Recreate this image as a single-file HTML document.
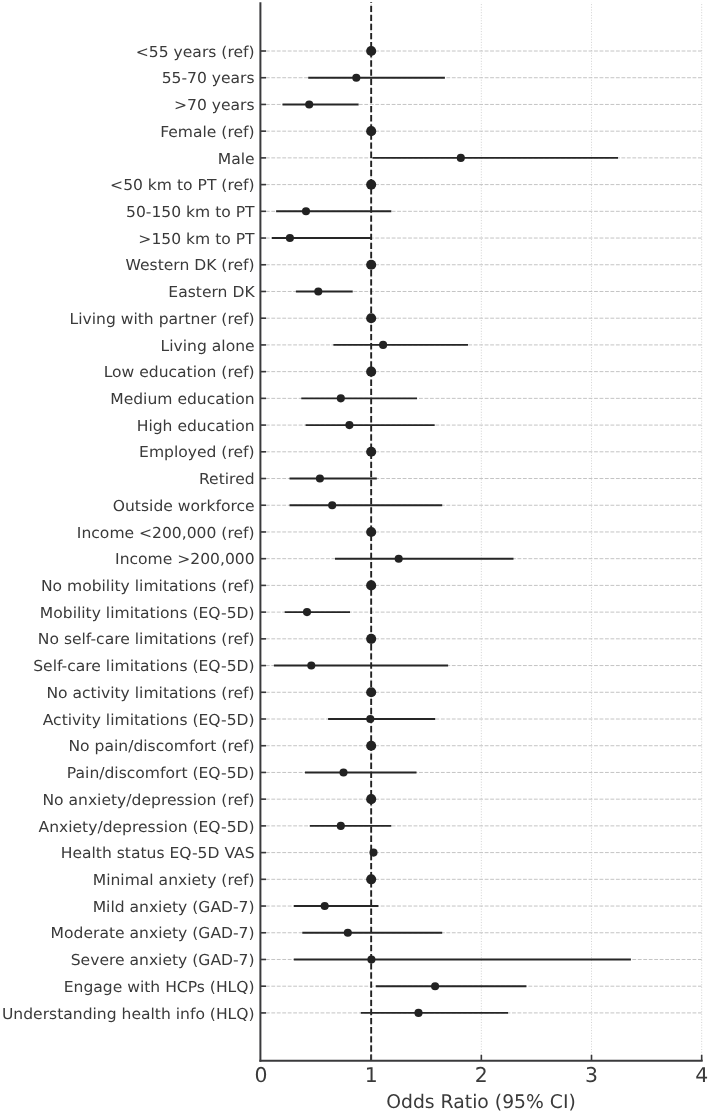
<!DOCTYPE html>
<html><head><meta charset="utf-8"><title>Odds Ratio forest plot</title>
<style>
html,body{margin:0;padding:0;background:#fff;}
body{width:709px;height:1111px;overflow:hidden;}
svg{display:block;will-change:transform;}
text{text-rendering:geometricPrecision;font-family:"DejaVu Sans","Liberation Sans",sans-serif;fill:#3a3a3a;}
</style></head><body>
<svg width="709" height="1111" viewBox="0 0 709 1111">
<rect width="709" height="1111" fill="#fff"/>

<g stroke="#c8c8c8" stroke-width="0.8" stroke-dasharray="1 1.7">
<line x1="371.17" y1="1060.80" x2="371.17" y2="2.30"/>
<line x1="481.34" y1="1060.80" x2="481.34" y2="2.30"/>
<line x1="591.51" y1="1060.80" x2="591.51" y2="2.30"/>
<line x1="701.68" y1="1060.80" x2="701.68" y2="2.30"/>
</g>
<g stroke="#c4c4c4" stroke-width="1.0" stroke-dasharray="3.82 1.65">
<line x1="260.40" y1="51.00" x2="701.68" y2="51.00"/>
<line x1="260.40" y1="77.72" x2="701.68" y2="77.72"/>
<line x1="260.40" y1="104.44" x2="701.68" y2="104.44"/>
<line x1="260.40" y1="131.16" x2="701.68" y2="131.16"/>
<line x1="260.40" y1="157.88" x2="701.68" y2="157.88"/>
<line x1="260.40" y1="184.60" x2="701.68" y2="184.60"/>
<line x1="260.40" y1="211.32" x2="701.68" y2="211.32"/>
<line x1="260.40" y1="238.04" x2="701.68" y2="238.04"/>
<line x1="260.40" y1="264.76" x2="701.68" y2="264.76"/>
<line x1="260.40" y1="291.48" x2="701.68" y2="291.48"/>
<line x1="260.40" y1="318.20" x2="701.68" y2="318.20"/>
<line x1="260.40" y1="344.92" x2="701.68" y2="344.92"/>
<line x1="260.40" y1="371.64" x2="701.68" y2="371.64"/>
<line x1="260.40" y1="398.36" x2="701.68" y2="398.36"/>
<line x1="260.40" y1="425.08" x2="701.68" y2="425.08"/>
<line x1="260.40" y1="451.80" x2="701.68" y2="451.80"/>
<line x1="260.40" y1="478.52" x2="701.68" y2="478.52"/>
<line x1="260.40" y1="505.24" x2="701.68" y2="505.24"/>
<line x1="260.40" y1="531.96" x2="701.68" y2="531.96"/>
<line x1="260.40" y1="558.68" x2="701.68" y2="558.68"/>
<line x1="260.40" y1="585.40" x2="701.68" y2="585.40"/>
<line x1="260.40" y1="612.12" x2="701.68" y2="612.12"/>
<line x1="260.40" y1="638.84" x2="701.68" y2="638.84"/>
<line x1="260.40" y1="665.56" x2="701.68" y2="665.56"/>
<line x1="260.40" y1="692.28" x2="701.68" y2="692.28"/>
<line x1="260.40" y1="719.00" x2="701.68" y2="719.00"/>
<line x1="260.40" y1="745.72" x2="701.68" y2="745.72"/>
<line x1="260.40" y1="772.44" x2="701.68" y2="772.44"/>
<line x1="260.40" y1="799.16" x2="701.68" y2="799.16"/>
<line x1="260.40" y1="825.88" x2="701.68" y2="825.88"/>
<line x1="260.40" y1="852.60" x2="701.68" y2="852.60"/>
<line x1="260.40" y1="879.32" x2="701.68" y2="879.32"/>
<line x1="260.40" y1="906.04" x2="701.68" y2="906.04"/>
<line x1="260.40" y1="932.76" x2="701.68" y2="932.76"/>
<line x1="260.40" y1="959.48" x2="701.68" y2="959.48"/>
<line x1="260.40" y1="986.20" x2="701.68" y2="986.20"/>
<line x1="260.40" y1="1012.92" x2="701.68" y2="1012.92"/>
</g>
<line x1="371.17" y1="1060.80" x2="371.17" y2="2.30" stroke="#222222" stroke-width="1.9" stroke-dasharray="6.37 2.75"/>
<g stroke="#262626" stroke-width="1.9">
<line x1="308.20" y1="77.72" x2="444.90" y2="77.72"/>
<line x1="282.50" y1="104.44" x2="358.60" y2="104.44"/>
<line x1="372.50" y1="157.88" x2="618.00" y2="157.88"/>
<line x1="276.10" y1="211.32" x2="391.30" y2="211.32"/>
<line x1="271.80" y1="238.04" x2="371.00" y2="238.04"/>
<line x1="295.90" y1="291.48" x2="352.70" y2="291.48"/>
<line x1="333.40" y1="344.92" x2="468.00" y2="344.92"/>
<line x1="301.30" y1="398.36" x2="417.00" y2="398.36"/>
<line x1="305.60" y1="425.08" x2="434.70" y2="425.08"/>
<line x1="289.50" y1="478.52" x2="376.80" y2="478.52"/>
<line x1="289.50" y1="505.24" x2="442.20" y2="505.24"/>
<line x1="335.00" y1="558.68" x2="513.50" y2="558.68"/>
<line x1="284.70" y1="612.12" x2="350.00" y2="612.12"/>
<line x1="273.90" y1="665.56" x2="448.10" y2="665.56"/>
<line x1="328.10" y1="719.00" x2="435.20" y2="719.00"/>
<line x1="305.00" y1="772.44" x2="416.50" y2="772.44"/>
<line x1="309.80" y1="825.88" x2="391.30" y2="825.88"/>
<line x1="371.80" y1="852.60" x2="374.40" y2="852.60"/>
<line x1="293.80" y1="906.04" x2="378.40" y2="906.04"/>
<line x1="302.30" y1="932.76" x2="442.20" y2="932.76"/>
<line x1="293.80" y1="959.48" x2="630.90" y2="959.48"/>
<line x1="375.80" y1="986.20" x2="526.40" y2="986.20"/>
<line x1="360.80" y1="1012.92" x2="508.10" y2="1012.92"/>
</g>
<g fill="#222222">
<circle cx="371.17" cy="51.00" r="5.05"/>
<circle cx="356.30" cy="77.72" r="4.05"/>
<circle cx="309.20" cy="104.44" r="4.05"/>
<circle cx="371.17" cy="131.16" r="5.05"/>
<circle cx="460.80" cy="157.88" r="4.05"/>
<circle cx="371.17" cy="184.60" r="5.05"/>
<circle cx="306.00" cy="211.32" r="4.05"/>
<circle cx="289.90" cy="238.04" r="4.05"/>
<circle cx="371.17" cy="264.76" r="5.05"/>
<circle cx="318.30" cy="291.48" r="4.05"/>
<circle cx="371.17" cy="318.20" r="5.05"/>
<circle cx="383.10" cy="344.92" r="4.05"/>
<circle cx="371.17" cy="371.64" r="5.05"/>
<circle cx="340.80" cy="398.36" r="4.05"/>
<circle cx="349.40" cy="425.08" r="4.05"/>
<circle cx="371.17" cy="451.80" r="5.05"/>
<circle cx="319.90" cy="478.52" r="4.05"/>
<circle cx="332.20" cy="505.24" r="4.05"/>
<circle cx="371.17" cy="531.96" r="5.05"/>
<circle cx="398.70" cy="558.68" r="4.05"/>
<circle cx="371.17" cy="585.40" r="5.05"/>
<circle cx="307.00" cy="612.12" r="4.05"/>
<circle cx="371.17" cy="638.84" r="5.05"/>
<circle cx="311.30" cy="665.56" r="4.05"/>
<circle cx="371.17" cy="692.28" r="5.05"/>
<circle cx="370.30" cy="719.00" r="4.05"/>
<circle cx="371.17" cy="745.72" r="5.05"/>
<circle cx="343.50" cy="772.44" r="4.05"/>
<circle cx="371.17" cy="799.16" r="5.05"/>
<circle cx="340.80" cy="825.88" r="4.05"/>
<circle cx="373.50" cy="852.60" r="4.05"/>
<circle cx="371.17" cy="879.32" r="5.05"/>
<circle cx="324.70" cy="906.04" r="4.05"/>
<circle cx="347.80" cy="932.76" r="4.05"/>
<circle cx="371.40" cy="959.48" r="4.05"/>
<circle cx="435.10" cy="986.20" r="4.05"/>
<circle cx="418.50" cy="1012.92" r="4.05"/>
</g>
<g stroke="#3a3a3c" stroke-width="2" fill="none">
<line x1="260.40" y1="2.30" x2="260.40" y2="1061.80"/>
<line x1="259.40" y1="1060.80" x2="702.68" y2="1060.80"/>
</g>
<g stroke="#3a3a3c" stroke-width="1.6">
<line x1="260.40" y1="51.00" x2="266.00" y2="51.00"/>
<line x1="260.40" y1="77.72" x2="266.00" y2="77.72"/>
<line x1="260.40" y1="104.44" x2="266.00" y2="104.44"/>
<line x1="260.40" y1="131.16" x2="266.00" y2="131.16"/>
<line x1="260.40" y1="157.88" x2="266.00" y2="157.88"/>
<line x1="260.40" y1="184.60" x2="266.00" y2="184.60"/>
<line x1="260.40" y1="211.32" x2="266.00" y2="211.32"/>
<line x1="260.40" y1="238.04" x2="266.00" y2="238.04"/>
<line x1="260.40" y1="264.76" x2="266.00" y2="264.76"/>
<line x1="260.40" y1="291.48" x2="266.00" y2="291.48"/>
<line x1="260.40" y1="318.20" x2="266.00" y2="318.20"/>
<line x1="260.40" y1="344.92" x2="266.00" y2="344.92"/>
<line x1="260.40" y1="371.64" x2="266.00" y2="371.64"/>
<line x1="260.40" y1="398.36" x2="266.00" y2="398.36"/>
<line x1="260.40" y1="425.08" x2="266.00" y2="425.08"/>
<line x1="260.40" y1="451.80" x2="266.00" y2="451.80"/>
<line x1="260.40" y1="478.52" x2="266.00" y2="478.52"/>
<line x1="260.40" y1="505.24" x2="266.00" y2="505.24"/>
<line x1="260.40" y1="531.96" x2="266.00" y2="531.96"/>
<line x1="260.40" y1="558.68" x2="266.00" y2="558.68"/>
<line x1="260.40" y1="585.40" x2="266.00" y2="585.40"/>
<line x1="260.40" y1="612.12" x2="266.00" y2="612.12"/>
<line x1="260.40" y1="638.84" x2="266.00" y2="638.84"/>
<line x1="260.40" y1="665.56" x2="266.00" y2="665.56"/>
<line x1="260.40" y1="692.28" x2="266.00" y2="692.28"/>
<line x1="260.40" y1="719.00" x2="266.00" y2="719.00"/>
<line x1="260.40" y1="745.72" x2="266.00" y2="745.72"/>
<line x1="260.40" y1="772.44" x2="266.00" y2="772.44"/>
<line x1="260.40" y1="799.16" x2="266.00" y2="799.16"/>
<line x1="260.40" y1="825.88" x2="266.00" y2="825.88"/>
<line x1="260.40" y1="852.60" x2="266.00" y2="852.60"/>
<line x1="260.40" y1="879.32" x2="266.00" y2="879.32"/>
<line x1="260.40" y1="906.04" x2="266.00" y2="906.04"/>
<line x1="260.40" y1="932.76" x2="266.00" y2="932.76"/>
<line x1="260.40" y1="959.48" x2="266.00" y2="959.48"/>
<line x1="260.40" y1="986.20" x2="266.00" y2="986.20"/>
<line x1="260.40" y1="1012.92" x2="266.00" y2="1012.92"/>
<line x1="371.17" y1="1060.80" x2="371.17" y2="1054.80"/>
<line x1="481.34" y1="1060.80" x2="481.34" y2="1054.80"/>
<line x1="591.51" y1="1060.80" x2="591.51" y2="1054.80"/>
<line x1="701.68" y1="1060.80" x2="701.68" y2="1054.80"/>
</g>
<g font-size="15.0" text-anchor="end" transform="translate(254.60 0) scale(1.037 1) translate(-254.60 0)">
<text x="254.60" y="56.65">&lt;55 years (ref)</text>
<text x="254.60" y="83.37">55-70 years</text>
<text x="254.60" y="110.09">&gt;70 years</text>
<text x="254.60" y="136.81">Female (ref)</text>
<text x="254.60" y="163.53">Male</text>
<text x="254.60" y="190.25">&lt;50 km to PT (ref)</text>
<text x="254.60" y="216.97">50-150 km to PT</text>
<text x="254.60" y="243.69">&gt;150 km to PT</text>
<text x="254.60" y="270.41">Western DK (ref)</text>
<text x="254.60" y="297.13">Eastern DK</text>
<text x="254.60" y="323.85">Living with partner (ref)</text>
<text x="254.60" y="350.57">Living alone</text>
<text x="254.60" y="377.29">Low education (ref)</text>
<text x="254.60" y="404.01">Medium education</text>
<text x="254.60" y="430.73">High education</text>
<text x="254.60" y="457.45">Employed (ref)</text>
<text x="254.60" y="484.17">Retired</text>
<text x="254.60" y="510.89">Outside workforce</text>
<text x="254.60" y="537.61">Income &lt;200,000 (ref)</text>
<text x="254.60" y="564.33">Income &gt;200,000</text>
<text x="254.60" y="591.05">No mobility limitations (ref)</text>
<text x="254.60" y="617.77">Mobility limitations (EQ-5D)</text>
<text x="254.60" y="644.49">No self-care limitations (ref)</text>
<text x="254.60" y="671.21">Self-care limitations (EQ-5D)</text>
<text x="254.60" y="697.93">No activity limitations (ref)</text>
<text x="254.60" y="724.65">Activity limitations (EQ-5D)</text>
<text x="254.60" y="751.37">No pain/discomfort (ref)</text>
<text x="254.60" y="778.09">Pain/discomfort (EQ-5D)</text>
<text x="254.60" y="804.81">No anxiety/depression (ref)</text>
<text x="254.60" y="831.53">Anxiety/depression (EQ-5D)</text>
<text x="254.60" y="858.25">Health status EQ-5D VAS</text>
<text x="254.60" y="884.97">Minimal anxiety (ref)</text>
<text x="254.60" y="911.69">Mild anxiety (GAD-7)</text>
<text x="254.60" y="938.41">Moderate anxiety (GAD-7)</text>
<text x="254.60" y="965.13">Severe anxiety (GAD-7)</text>
<text x="254.60" y="991.85">Engage with HCPs (HLQ)</text>
<text x="254.60" y="1018.57">Understanding health info (HLQ)</text>
</g>
<g font-size="20.4" text-anchor="middle">
<text x="261.00" y="1082.3">0</text>
<text x="371.17" y="1082.3">1</text>
<text x="481.34" y="1082.3">2</text>
<text x="591.51" y="1082.3">3</text>
<text x="701.68" y="1082.3">4</text>
</g>
<text x="481.04" y="1108.3" font-size="18.8" text-anchor="middle">Odds Ratio (95% CI)</text>
</svg>
</body></html>
